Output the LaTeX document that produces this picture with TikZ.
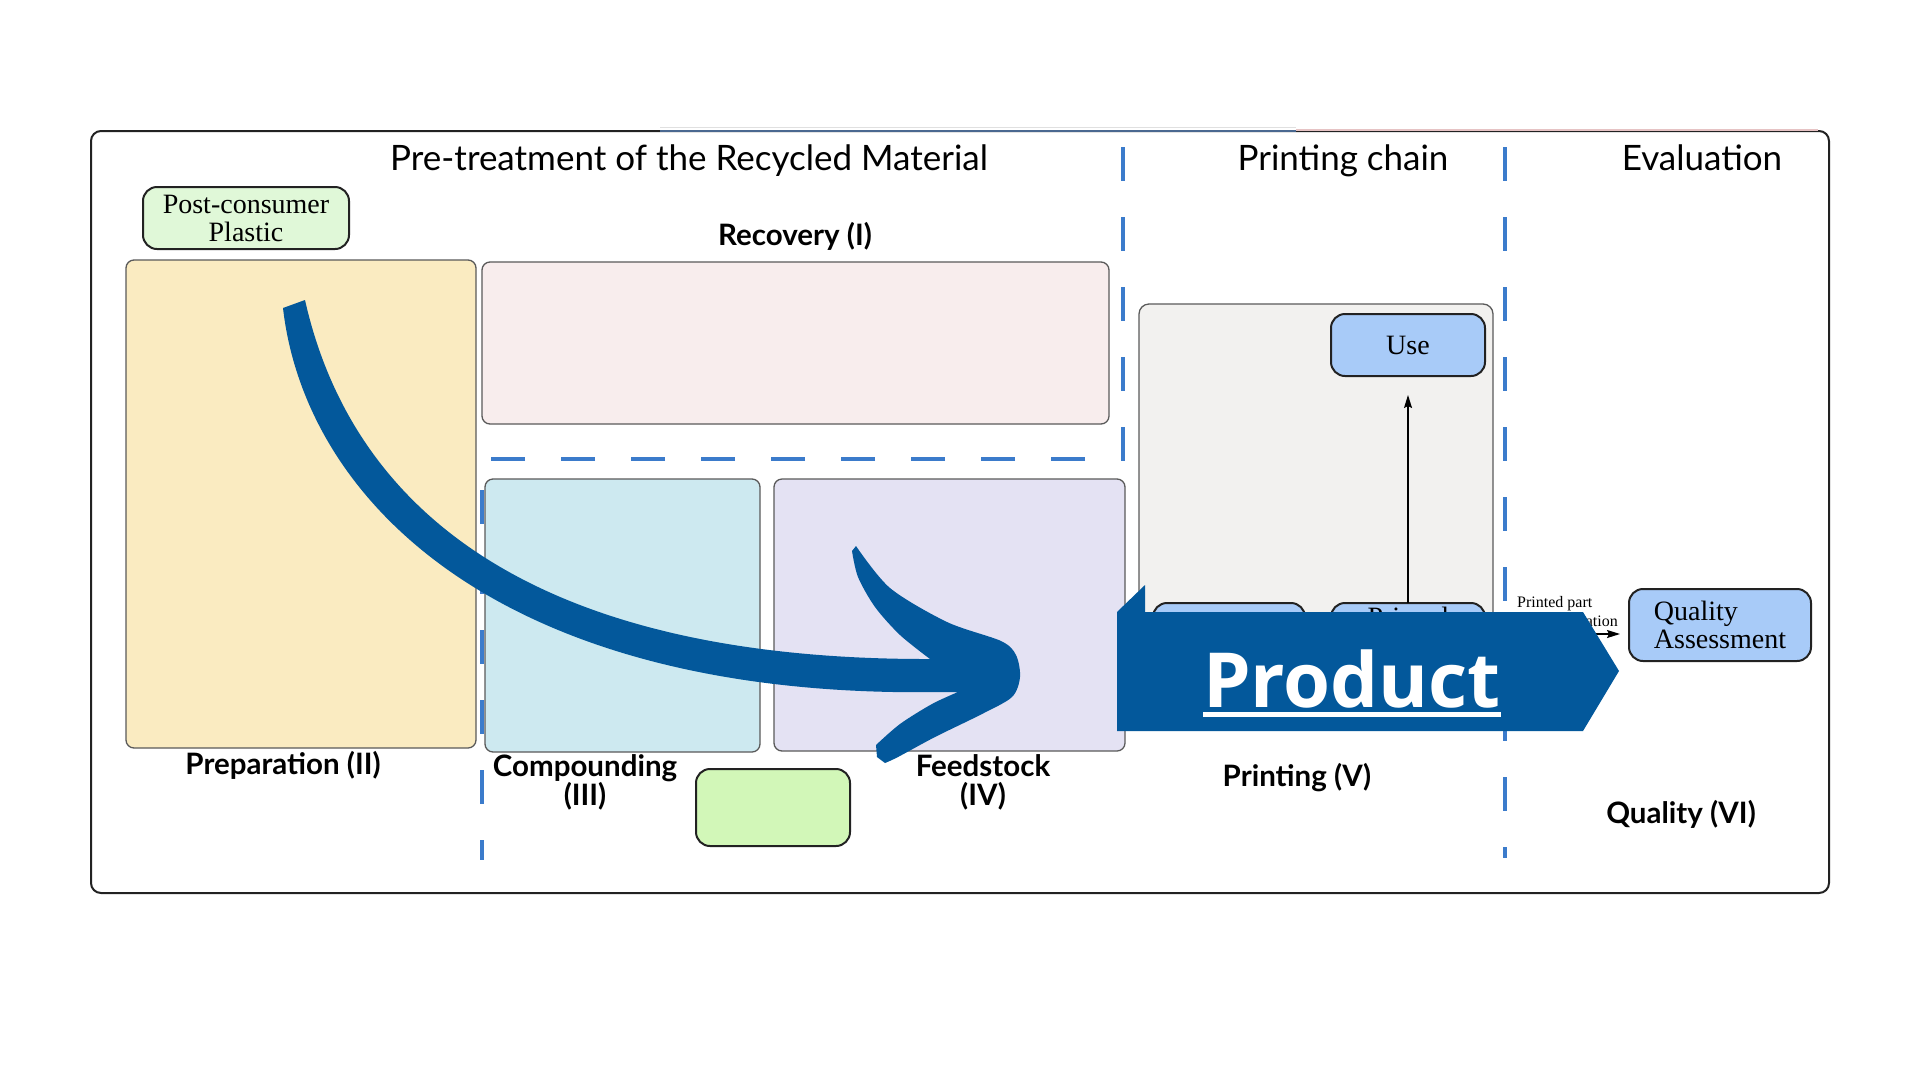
\documentclass[tikz,border=0pt]{standalone}
\usepackage{fontspec}
\setmainfont{Liberation Serif}
\newfontfamily\lato{Lato}
\newfontfamily\prodfont{Open Sans}
\usetikzlibrary{arrows.meta,calc}
\definecolor{prepfill}{HTML}{FAEBC1}
\definecolor{recfill}{HTML}{F8EDED}
\definecolor{compfill}{HTML}{CDE9F0}
\definecolor{feedfill}{HTML}{E4E2F3}
\definecolor{printfill}{HTML}{F2F1EF}
\definecolor{bluefill}{HTML}{A8CBF8}
\definecolor{pcpfill}{HTML}{E0F8D8}
\definecolor{greenfill}{HTML}{D2F7B8}
\definecolor{arrowblue}{HTML}{03589B}
\definecolor{dashblue}{HTML}{3B7BCB}
\definecolor{boxline}{HTML}{5A5A5A}
\definecolor{pillline}{HTML}{222222}
\definecolor{topblue}{HTML}{4A6890}
\definecolor{toppink}{HTML}{E6C3C4}
\tikzset{
  bigbox/.style={draw=boxline, line width=1.3pt, rounded corners=8pt, inner sep=0pt, outer sep=0pt},
  pillbox/.style={draw=pillline, line width=2pt, rounded corners=14pt, inner sep=0pt, outer sep=0pt, align=center, font=\fontsize{28}{28}\selectfont},
  ttl/.style={font={\lato\fontsize{35}{38}\selectfont}, anchor=base, inner sep=0pt},
  lbl/.style={font={\lato\bfseries\fontsize{29.5}{29}\selectfont}, anchor=base, inner sep=0pt, align=center},
  dashline/.style={draw=dashblue, line width=3.5pt, dash pattern=on 34pt off 36pt},
  conn/.style={draw=black, line width=1.4pt, -{Stealth[length=13pt,width=8pt,inset=2pt]}},
}
\begin{document}
\begin{tikzpicture}[x=1pt,y=-1pt]
\useasboundingbox (0,0) rectangle (1920,1080);
\fill[white] (0,0) rectangle (1920,1080);

% outer frame
\node[draw=pillline, line width=2pt, rounded corners=10pt, minimum width=1738pt, minimum height=762pt, inner sep=0pt] (frame) at (960,512) {};
\draw[topblue, line width=2.5pt] (660,131) -- (1296,131);
\draw[toppink, line width=2.5pt] (1296,130) -- (1818,130);
\draw[black!12, line width=1pt] (660,127) -- (1296,127);

% titles
\node[ttl] (t1) at (689,170) {Pre-treatment of the Recycled Material};
\node[ttl] (t2) at (1343,170) {Printing chain};
\node[ttl] (t3) at (1702,170) {Evaluation};

% boxes
\node[pillbox, fill=pcpfill, minimum width=206pt, minimum height=62pt] (pcp) at (246,218) {Post-consumer\\Plastic};
\node[bigbox, fill=prepfill, minimum width=350pt, minimum height=488pt] (prep) at (301,504) {};
\node[bigbox, fill=recfill, minimum width=627pt, minimum height=162pt] (recov) at (795.5,343) {};
\node[bigbox, fill=compfill, minimum width=275pt, minimum height=273pt] (comp) at (622.5,615.5) {};
\node[bigbox, fill=feedfill, minimum width=351pt, minimum height=272pt] (feed) at (949.5,615) {};
\node[bigbox, fill=printfill, rounded corners=10pt, minimum width=354pt, minimum height=421pt] (printbox) at (1316,514.5) {};
\node[pillbox, fill=bluefill, minimum width=154pt, minimum height=62pt] (use) at (1408,345) {Use};
\node[pillbox, fill=bluefill, minimum width=152pt, minimum height=62pt] (lblue) at (1229,634) {};
\node[pillbox, fill=bluefill, minimum width=154pt, minimum height=62pt, text depth=34pt] (primed) at (1408,634) {Primed};
\node[pillbox, fill=bluefill, minimum width=182pt, minimum height=72pt, align=left] (qa) at (1720,625) {Quality\\Assessment};
\node[pillbox, fill=greenfill, minimum width=154pt, minimum height=77pt] (green) at (773,807.5) {};

% dashed separators
\draw[dashline] (1123,147) -- (1123,459) -- (487,459);
\draw[dashline] (1505,147) -- (1505,858);
\draw[dashline] (482,490) -- (482,860);

% labels
\node[lbl] (l1) at (795,245) {Recovery (I)};
\node[lbl] (l2) at (283,774) {Preparation (II)};
\node[lbl] (l3) at (585,805) {Compounding\\(III)};
\node[lbl] (l4) at (983,805) {Feedstock\\(IV)};
\node[lbl] (l5) at (1297,786) {Printing (V)};
\node[lbl] (l6) at (1681,823) {Quality (VI)};

% connectors
\draw[conn, shorten >=19pt] (primed.north) -- (use.south);
\draw[conn, shorten >=9pt] (primed.east) -- (primed.east -| qa.west);
\node[font=\fontsize{16}{18}\selectfont, anchor=base west, inner sep=0pt] (pp) at (1517,607) {Printed part};
\node[font=\fontsize{16}{18}\selectfont, anchor=base east, inner sep=0pt] (at) at (1618,626) {ation};

% big curved arrow
\fill[arrowblue]
  (305,300) .. controls (350,500) and (520,660) .. (930,659)
  -- plot[smooth] coordinates {(930,659) (900,635) (875,607) (858,577) (852,551)}
  -- (856,546)
  -- plot[smooth] coordinates {(856,546) (890,588) (947,622) (1001,641) (1016,655) (1020,677) (1012,697) (982,714) (935,737) (898,757) (885,763)}
  -- (877,757) -- (876,745)
  -- plot[smooth] coordinates {(876,745) (900,724) (932,704) (958,692)}
  -- (944,692)
  .. controls (500,700) and (305,500) .. (283,308)
  -- cycle;

% product band
\fill[arrowblue] (1117,612) -- (1583,612) -- (1619,671) -- (1583,731) -- (1117,731) -- cycle;
\fill[arrowblue] (1117,612) -- (1145,585) -- (1145,612) -- cycle;
\node[font={\prodfont\bfseries\fontsize{76}{80}\selectfont}, text=white, anchor=base, inner sep=0pt] (product) at (1352,707) {Product};
\fill[white] ($(product.base west)+(0,5)$) rectangle ($(product.base east)+(0,10)$);
\end{tikzpicture}
\end{document}
